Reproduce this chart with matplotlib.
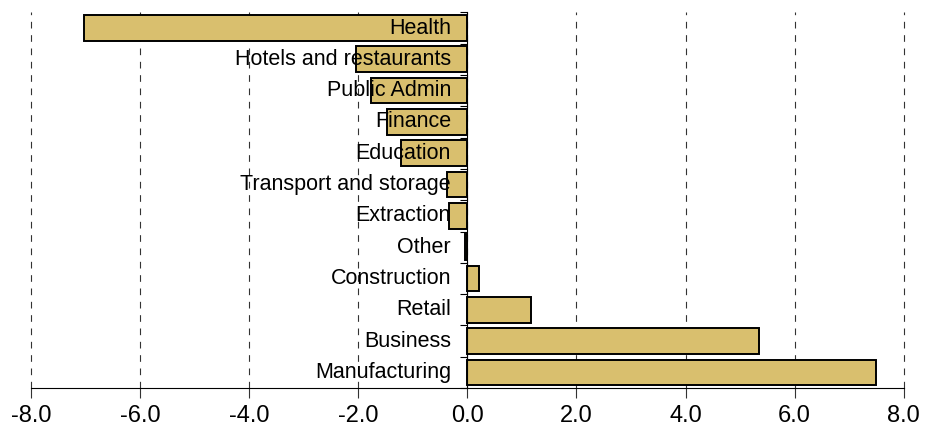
import matplotlib
matplotlib.use("Agg")
import matplotlib.pyplot as plt
import numpy as np

plt.rcParams['font.family'] = ['Liberation Sans', 'DejaVu Sans']

sectors = ['Health', 'Hotels and restaurants', 'Public Admin', 'Finance', 'Education',
           'Transport and storage', 'Extraction', 'Other', 'Construction', 'Retail',
           'Business', 'Manufacturing']
values = [-7.03, -2.05, -1.76, -1.47, -1.21, -0.38, -0.33, -0.05, 0.22, 1.17, 5.35, 7.5]
xticks = [-8, -6, -4, -2, 0, 2, 4, 6, 8]

fig = plt.figure(figsize=(9.25, 4.41), dpi=100)
ax = fig.add_axes([0.0335, 0.12, 0.9435, 0.852])

pos = np.arange(len(sectors))
ax.barh(pos, values, height=0.82, color='#D9BF6E', edgecolor='black', linewidth=1.4, zorder=3)

for p, name in zip(pos, sectors):
    ax.text(-0.3, p, name, ha='right', va='center', fontsize=15.5, zorder=4)

ax.set_xlim(-8, 8)
ax.set_ylim(len(sectors) - 0.5, -0.5)
ax.set_xticks(xticks)
ax.set_xticklabels(['%.1f' % t for t in xticks], fontsize=17)
ax.xaxis.grid(True, linestyle=(0, (6, 6)), color='#333333', linewidth=0.8, zorder=0)
for gl in ax.get_xgridlines():
    gl.set_clip_on(False)
ax.tick_params(axis='x', length=7, width=0.8, pad=5, color='#333333')

# y axis sits at zero with ticks between categories
ax.spines['left'].set_position(('data', 0))
ax.spines['left'].set_linewidth(0.8)
ax.spines['left'].set_zorder(5)
ax.set_yticks(np.arange(len(sectors) + 1) - 0.5)
ax.set_yticklabels([])
ax.tick_params(axis='y', length=5, width=0.8)
ax.spines['top'].set_visible(False)
ax.spines['right'].set_visible(False)
ax.spines['bottom'].set_linewidth(0.8)

fig.savefig('out.png', dpi=100)
